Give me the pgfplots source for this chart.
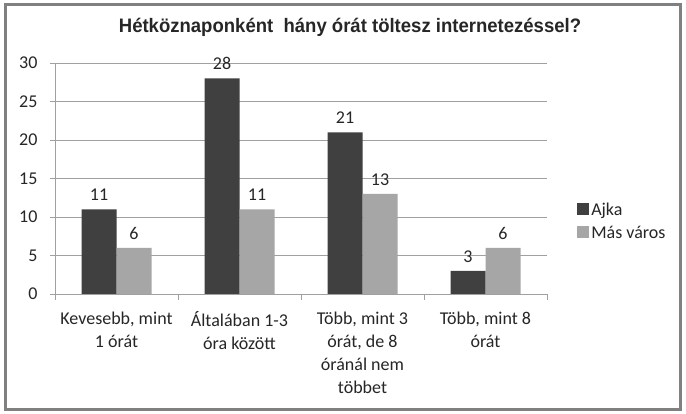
\documentclass[border=0pt]{standalone}
\usepackage{fontspec}
\setmainfont{Carlito}
\newfontfamily\titlefont{Liberation Sans}[FakeStretch=0.95]
\usepackage{pgfplots}
\pgfplotsset{compat=1.18}

\definecolor{ajka}{HTML}{404040}
\definecolor{masvaros}{HTML}{A6A6A6}
\definecolor{gridc}{HTML}{A0A0A0}
\definecolor{framec}{HTML}{808080}
\definecolor{txt}{HTML}{262626}

\begin{document}
\begin{tikzpicture}
\useasboundingbox (0pt,0pt) rectangle (686pt,414pt);
\fill[white] (0pt,0pt) rectangle (686pt,414pt);
\draw[framec, line width=3pt] (5.5pt,4.5pt) rectangle (680.5pt,409.5pt);
\node[font=\titlefont\bfseries\fontsize{19.5}{22}\selectfont, text=txt]
  at (350pt,387pt) {Hétköznaponként\ \ hány órát töltesz internetezéssel?};
\begin{axis}[
  at={(55pt,120pt)}, anchor=south west,
  scale only axis, width=492pt, height=231pt,
  xmin=-0.5, xmax=3.5, ymin=0, ymax=30,
  ybar=0pt, bar width=35pt,
  axis x line*=bottom, axis y line*=left,
  axis line style={gridc,-},
  ymajorgrids, grid style={gridc, line width=0.8pt},
  ytick={0,5,...,30},
  xtick={0,1,2,3},
  xticklabels={{Kevesebb, mint\\1 órát},{Általában 1-3\\óra között},
    {Több, mint 3\\órát, de 8\\óránál nem\\többet},{Több, mint 8\\órát}},
  minor xtick={-0.5,0.5,1.5,2.5,3.5},
  major x tick style={draw=none},
  tick style={gridc, line width=0.8pt},
  tick align=outside,
  major tick length=5pt, minor tick length=6pt,
  x tick label style={align=center, font=\fontsize{18}{23}\selectfont, text=txt, yshift=-9pt},
  y tick label style={font=\fontsize{18}{20}\selectfont, text=txt, xshift=-9pt},
  /pgf/number format/assume math mode=true,
  nodes near coords,
  every node near coord/.append style={font=\fontsize{18}{20}\selectfont, text=txt, yshift=5pt},
  legend style={draw=none, fill=none, at={(rel axis cs:1.055,0.315)}, anchor=west,
    font=\fontsize{18}{20}\selectfont, text=txt, row sep=5pt,
    /tikz/every even column/.append style={column sep=2pt}},
  legend cell align=left,
  legend image code/.code={\fill[#1] (0pt,-5pt) rectangle (12pt,7pt);},
]
\addplot[fill=ajka, draw=none] coordinates {(0,11) (1,28) (2,21) (3,3)};
\addplot[fill=masvaros, draw=none] coordinates {(0,6) (1,11) (2,13) (3,6)};
\legend{Ajka, Más város}
\end{axis}
\end{tikzpicture}
\end{document}
